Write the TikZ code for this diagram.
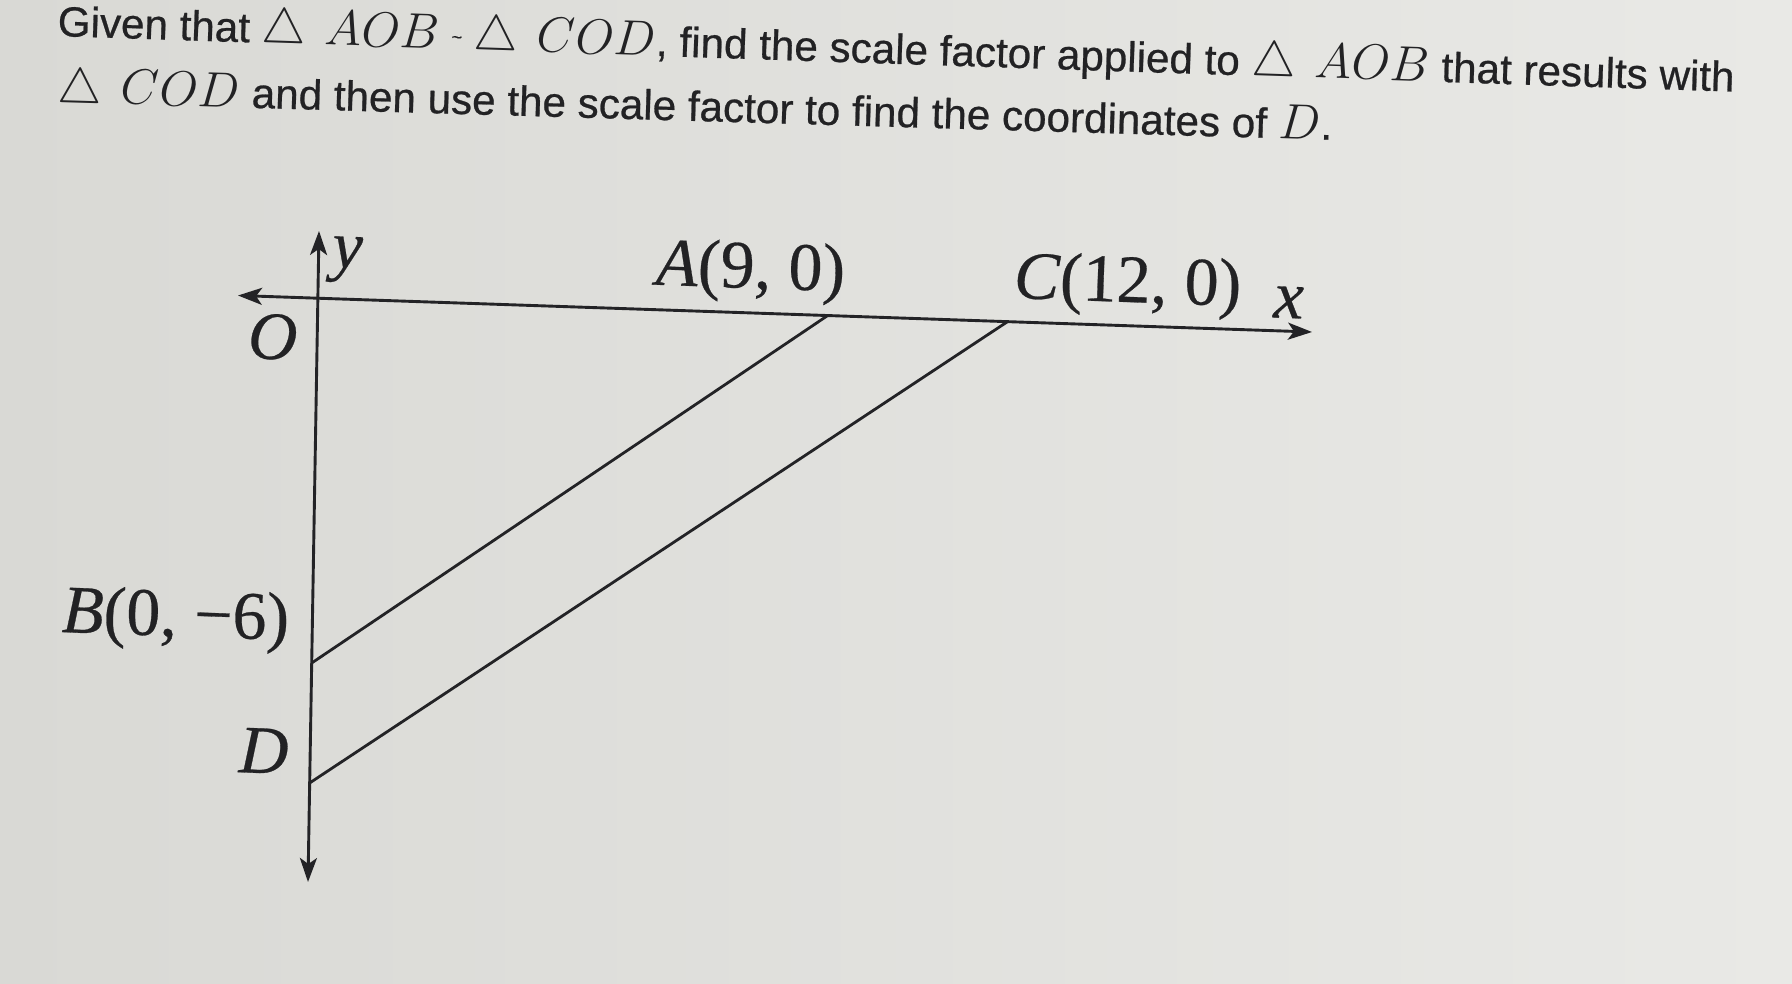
\documentclass[tikz,border=0pt]{standalone}
\usepackage{fontspec}
\setmainfont[FakeBold=0.6]{Liberation Sans}
\newfontfamily\tms[FakeBold=0.4]{Liberation Serif}
\usetikzlibrary{arrows.meta}
\definecolor{bgleft}{RGB}{217,217,213}
\definecolor{bgright}{RGB}{233,233,230}
\definecolor{ink}{RGB}{35,35,38}
\definecolor{txt}{RGB}{34,34,36}
\newcommand\mth[1]{{\fontsize{24.4pt}{24.4pt}\selectfont$#1$}}
\newcommand\tri{\triangle\mkern7mu}
\newcommand\simil{\raisebox{3pt}{\fontsize{9pt}{9pt}\selectfont\textasciitilde}}
\begin{document}
\begin{tikzpicture}[x=0.5pt,y=-0.5pt,
  axisline/.style={draw=ink,line width=1.45pt,{Stealth[length=12pt,width=8.5pt,inset=3pt]}-{Stealth[length=12pt,width=8.5pt,inset=3pt]}},
  hypline/.style={draw=ink,line width=1.4pt},
  lbl/.style={inner sep=0pt,text=txt,font=\tms\fontsize{34pt}{36pt}\selectfont,rotate=-2},
  titletext/.style={inner sep=0pt,anchor=base west,text=txt,font=\fontsize{21.1pt}{24pt}\selectfont}]
\useasboundingbox (0,0) rectangle (1792,984);
\fill[left color=bgleft,right color=bgright] (0,0) rectangle (1792,984);
% title
\node[titletext,rotate=-1.9] (line1) at (57,36) {Given that \mth{\tri AOB} \simil\ \mth{\tri COD}, find the scale factor applied to \mth{\tri AOB} that results with};
\node[titletext,rotate=-1.7] (line2) at (57,102) {\mth{\tri COD} and then use the scale factor to find the coordinates of \mth{D}.};
% axes points
\coordinate (xl) at (238,295.5);
\coordinate (xr) at (1312,332);
\coordinate (yt) at (319,231);
\coordinate (yb) at (308,882);
\coordinate (A) at (827,316);
\coordinate (C) at (1007,322);
\coordinate (B) at (311.7,663);
\coordinate (D) at (309.6,783);
\draw[axisline] (xl) -- (xr);
\draw[axisline] (yb) -- (yt);
\draw[hypline] (B) -- (A);
\draw[hypline] (D) -- (C);
% labels
\node[lbl,anchor=base] (ylab) at (347,268) {\textit{y}};
\node[lbl,anchor=base] (xlab) at (1288,318) {\textit{x}};
\node[lbl,anchor=base] (Olab) at (272,359) {\textit{O}};
\node[lbl,anchor=base] (Alab) at (750,288) {\textit{A}(9, 0)};
\node[lbl,anchor=base] (Clab) at (1127,302) {\textit{C}(12, 0)};
\node[lbl,anchor=base] (Blab) at (175,636) {\textit{B}(0, −6)};
\node[lbl,anchor=base] (Dlab) at (263,773) {\textit{D}};
\end{tikzpicture}
\end{document}
